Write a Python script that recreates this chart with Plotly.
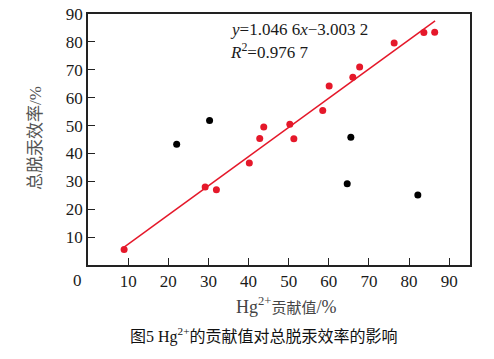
import plotly.graph_objects as go

# Red points (fitted series)
red_x = [9.0, 29.2, 32.0, 40.2, 42.8, 43.8, 50.3, 51.3, 58.5, 60.1, 66.0, 67.7, 76.3, 83.7, 86.4]
red_y = [5.6, 28.0, 27.0, 36.6, 45.4, 49.5, 50.5, 45.3, 55.4, 64.2, 67.3, 71.0, 79.6, 83.4, 83.5]
# Black points (outliers)
black_x = [22.1, 30.3, 64.6, 65.5, 82.2]
black_y = [43.3, 51.8, 29.1, 45.8, 25.1]
# Fit line
slope = 1.0466
intercept = -3.0032
line_x = [9.0, 86.5]
line_y = [slope * v + intercept for v in line_x]

ticks = [10, 20, 30, 40, 50, 60, 70, 80, 90]

RED = "#e5182a"
SERIF = "Liberation Serif"
CJK = "Liberation Serif, Noto Sans CJK SC"

L, R, T, B = 88, 24, 14, 94
PW, PH = 494 - L - R, 359 - T - B


def px(x):
    return (x - L) / PW


def py(y):
    return 1 - (y - T) / PH


fig = go.Figure()
fig.add_trace(go.Scatter(x=line_x, y=line_y, mode="lines",
                         line=dict(color=RED, width=1.5), showlegend=False))
fig.add_trace(go.Scatter(x=red_x, y=red_y, mode="markers",
                         marker=dict(color=RED, size=7), showlegend=False))
fig.add_trace(go.Scatter(x=black_x, y=black_y, mode="markers",
                         marker=dict(color="black", size=7), showlegend=False))

axis_common = dict(tickvals=ticks, ticks="inside", ticklen=7,
                   tickwidth=1.2, tickcolor="#222", showline=True, linecolor="#222",
                   linewidth=1.5, mirror=True, showgrid=False, zeroline=False,
                   automargin=False,
                   tickfont=dict(family=SERIF, size=17, color="#1a1a1a"))

fig.update_layout(
    width=494, height=359,
    margin=dict(l=L, r=R, t=T, b=B),
    paper_bgcolor="white", plot_bgcolor="white",
    font=dict(family=SERIF, size=17, color="#1a1a1a"),
    xaxis=dict(range=[0, 95.2], **axis_common),
    yaxis=dict(range=[0, 90], **axis_common),
)

# axis titles
fig.add_annotation(x=px(286), y=py(305), xref="paper", yref="paper",
                   text="Hg<sup>2+</sup><span style='font-size:15px'>贡献值</span>/%",
                   showarrow=False, xanchor="center", yanchor="middle",
                   font=dict(family=CJK, size=18, color="#444"))
fig.add_annotation(x=px(35), y=py(138), xref="paper", yref="paper",
                   text="总脱汞效率/%", showarrow=False, textangle=-90,
                   xanchor="center", yanchor="middle",
                   font=dict(family=CJK, size=17, color="#555"))
# origin label
fig.add_annotation(x=px(77), y=py(280), xref="paper", yref="paper", text="0", showarrow=False,
                   xanchor="center", yanchor="middle",
                   font=dict(family=SERIF, size=17, color="#1a1a1a"))
# fit equation
fig.add_annotation(x=px(228), y=py(30), xref="paper", yref="paper",
                   text="<i>y</i>=1.046 6<i>x</i>−3.003 2", showarrow=False,
                   xanchor="left", yanchor="middle",
                   font=dict(family=SERIF, size=17, color="#1a1a1a"))
fig.add_annotation(x=px(228), y=py(51), xref="paper", yref="paper",
                   text="<i>R</i><sup>2</sup>=0.976 7", showarrow=False,
                   xanchor="left", yanchor="middle",
                   font=dict(family=SERIF, size=17, color="#1a1a1a"))
# caption
fig.add_annotation(x=px(128), y=py(335), xref="paper", yref="paper",
                   text="图5 Hg<sup>2+</sup>的贡献值对总脱汞效率的影响", showarrow=False,
                   xanchor="left", yanchor="middle",
                   font=dict(family="Liberation Serif, Noto Sans CJK SC", size=16, color="#111"))

fig.write_html("out.html", post_script="document.body.style.margin='0px';",
               config={"displayModeBar": False})
